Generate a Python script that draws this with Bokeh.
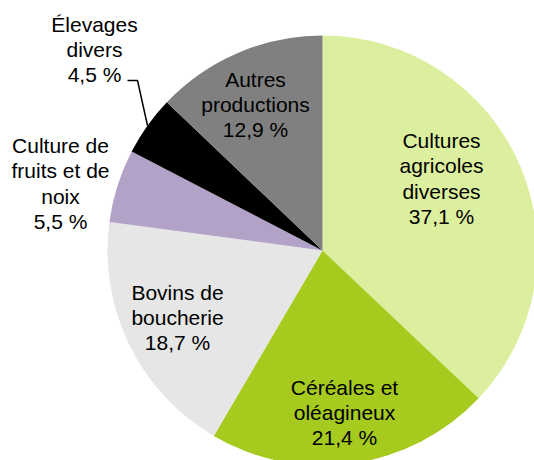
import numpy as np
from bokeh.plotting import figure
from bokeh.models import Range1d, ColumnDataSource
from bokeh.core.properties import value
from bokeh.embed import file_html
from bokeh.resources import INLINE

# Data (clockwise from 12 o'clock)
categories = ["Cultures agricoles diverses", "Céréales et oléagineux", "Bovins de boucherie",
              "Culture de fruits et de noix", "Élevages divers", "Autres productions"]
shares = [37.1, 21.4, 18.7, 5.5, 4.5, 12.9]
labels = ["Cultures\nagricoles\ndiverses\n37,1 %",
          "Céréales et\noléagineux\n21,4 %",
          "Bovins de\nboucherie\n18,7 %",
          "Culture de\nfruits et de\nnoix\n5,5 %",
          "Élevages\ndivers\n4,5 %",
          "Autres\nproductions\n12,9 %"]
colors = ["#DCEF9E", "#A6CA1E", "#E6E6E6", "#B3A2C7", "#000000", "#808080"]

W, H = 534, 460
p = figure(width=W, height=H, output_backend="svg", toolbar_location=None,
           x_range=Range1d(0, W), y_range=Range1d(0, H), min_border=0)
p.axis.visible = False
p.grid.visible = False
p.outline_line_color = None
p.background_fill_color = None
p.border_fill_color = None

vals = np.array(shares, dtype=float)
frac = vals / vals.sum()
cum = np.concatenate([[0.0], np.cumsum(frac)])
start = np.pi / 2 - 2 * np.pi * cum[:-1]
end = np.pi / 2 - 2 * np.pi * cum[1:]

cx, cy, r = 322, 210, 215
src = ColumnDataSource(dict(start=start, end=end, color=colors, cat=categories))
p.wedge(x=cx, y=cy, radius=r, start_angle="start", end_angle="end", direction="clock",
        fill_color="color", line_color=None, source=src)

# label positions (layout)
lx = [441, 344, 177, 60, 94, 255]
ly = [282, 48, 143, 277, 411, 356]
tsrc = ColumnDataSource(dict(x=lx, y=ly, t=labels))
p.text(x="x", y="y", text="t", source=tsrc, text_align="center", text_baseline="middle",
       text_font=value("Liberation Sans"), text_font_size="21px", text_color="#000000",
       text_line_height=1.1)

# leader line for "Élevages divers"
p.line(x=[127, 137, 147], y=[380, 380, 335], line_color="#000000", line_width=1.5)

open("out.html", "w").write(file_html(p, INLINE))
